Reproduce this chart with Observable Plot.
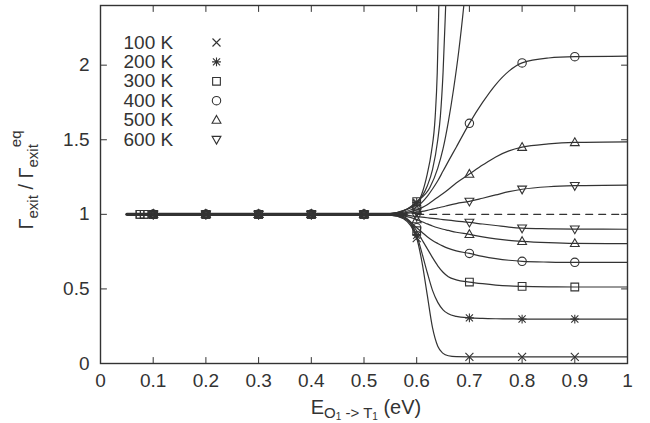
<!DOCTYPE html>
<html>
<head>
<meta charset="utf-8">
<script src="https://cdn.jsdelivr.net/npm/d3@7"></script>
<script src="https://cdn.jsdelivr.net/npm/@observablehq/plot@0.6"></script>
<style>
  html, body { margin: 0; padding: 0; background: #fff; }
  svg { display: block; }
</style>
</head>
<body>
<div id="chart"></div>
<script>
// ---- data ----
const temps = ["100 K", "200 K", "300 K", "400 K", "500 K", "600 K"];
const xTicks = [0, 0.1, 0.2, 0.3, 0.4, 0.5, 0.6, 0.7, 0.8, 0.9, 1];
const yTicks = [0, 0.5, 1, 1.5, 2];
const markX = [0.075, 0.083, 0.1, 0.2, 0.3, 0.4, 0.5, 0.6, 0.7, 0.8, 0.9];

// shared x grid for the saturating curves
const xs = [0.05, 0.075, 0.083, 0.1, 0.2, 0.3, 0.4, 0.5, 0.55, 0.575, 0.6, 0.61, 0.62, 0.63, 0.64, 0.65, 0.66, 0.675, 0.7, 0.725, 0.75, 0.775, 0.8, 0.85, 0.9, 1.0];

const down100 = [1, 1, 1, 1, 1, 1, 1, 1, 0.995, 0.97, 0.84, 0.68, 0.46, 0.24, 0.115, 0.068, 0.052, 0.046, 0.045, 0.045, 0.045, 0.045, 0.045, 0.045, 0.045, 0.045];
const down200 = [1, 1, 1, 1, 1, 1, 1, 1, 0.995, 0.975, 0.86, 0.74, 0.61, 0.49, 0.41, 0.36, 0.333, 0.316, 0.306, 0.302, 0.300, 0.299, 0.298, 0.298, 0.298, 0.298];
const down300 = [1, 1, 1, 1, 1, 1, 1, 1, 0.997, 0.98, 0.89, 0.83, 0.77, 0.71, 0.655, 0.612, 0.582, 0.561, 0.546, 0.535, 0.526, 0.52, 0.517, 0.514, 0.513, 0.513];
const down400 = [1, 1, 1, 1, 1, 1, 1, 1, 0.998, 0.985, 0.91, 0.88, 0.85, 0.825, 0.805, 0.787, 0.772, 0.755, 0.738, 0.718, 0.703, 0.692, 0.685, 0.68, 0.678, 0.678];
const down500 = [1, 1, 1, 1, 1, 1, 1, 1, 0.999, 0.99, 0.965, 0.95, 0.936, 0.922, 0.91, 0.9, 0.892, 0.88, 0.866, 0.849, 0.836, 0.826, 0.819, 0.81, 0.805, 0.803];
const down600 = [1, 1, 1, 1, 1, 1, 1, 1, 1, 0.996, 0.985, 0.981, 0.977, 0.973, 0.969, 0.965, 0.961, 0.955, 0.946, 0.935, 0.925, 0.914, 0.907, 0.903, 0.901, 0.9];
const up400 = [1, 1, 1, 1, 1, 1, 1, 1, 1.003, 1.015, 1.05, 1.08, 1.12, 1.17, 1.225, 1.29, 1.355, 1.45, 1.61, 1.75, 1.87, 1.96, 2.015, 2.048, 2.057, 2.06];
const up500 = [1, 1, 1, 1, 1, 1, 1, 1, 1.001, 1.008, 1.03, 1.045, 1.065, 1.09, 1.115, 1.14, 1.167, 1.21, 1.27, 1.33, 1.385, 1.425, 1.45, 1.472, 1.482, 1.486];
const up600 = [1, 1, 1, 1, 1, 1, 1, 1, 1, 1.004, 1.015, 1.02, 1.027, 1.035, 1.043, 1.051, 1.06, 1.072, 1.087, 1.108, 1.13, 1.152, 1.168, 1.185, 1.192, 1.196];

// steep (diverging) curves
const up100X = [0.05, 0.1, 0.2, 0.3, 0.4, 0.5, 0.55, 0.575, 0.6, 0.61, 0.62, 0.628, 0.635, 0.639, 0.642, 0.646, 0.65];
const up100Y = [1, 1, 1, 1, 1, 1, 1.005, 1.025, 1.07, 1.14, 1.27, 1.42, 1.65, 1.95, 2.4, 3.1, 3.9];
const up200X = [0.05, 0.1, 0.2, 0.3, 0.4, 0.5, 0.55, 0.575, 0.6, 0.61, 0.62, 0.63, 0.64, 0.645, 0.65, 0.655, 0.66, 0.67];
const up200Y = [1, 1, 1, 1, 1, 1, 1.005, 1.025, 1.08, 1.12, 1.19, 1.3, 1.5, 1.66, 1.95, 2.4, 2.9, 4.0];
const up300X = [0.05, 0.075, 0.083, 0.1, 0.2, 0.3, 0.4, 0.5, 0.55, 0.575, 0.6, 0.625, 0.64, 0.65, 0.66, 0.67, 0.68, 0.69, 0.7, 0.72];
const up300Y = [1, 1, 1, 1, 1, 1, 1, 1, 1.004, 1.022, 1.085, 1.18, 1.31, 1.44, 1.62, 1.84, 2.1, 2.42, 2.8, 3.6];

// reference line (equilibrium ratio = 1)
const eqSolidX = [0.05, 0.58];
const eqDashX = [0.6, 1.0];
const eqY = 1;

// ---- build tables ----
const curves = [
  {t: "100 K", x: xs, y: down100},
  {t: "200 K", x: xs, y: down200},
  {t: "300 K", x: xs, y: down300},
  {t: "400 K", x: xs, y: down400},
  {t: "500 K", x: xs, y: down500},
  {t: "600 K", x: xs, y: down600},
  {t: "100 K", x: up100X, y: up100Y},
  {t: "200 K", x: up200X, y: up200Y},
  {t: "300 K", x: up300X, y: up300Y},
  {t: "400 K", x: xs, y: up400},
  {t: "500 K", x: xs, y: up500},
  {t: "600 K", x: xs, y: up600}
];
const lineRows = [];
const markRows = [];
curves.forEach((c, k) => {
  c.x.forEach((xv, i) => {
    lineRows.push({id: k, t: c.t, x: xv, y: c.y[i]});
    const isMark = markX.some(m => Math.abs(m - xv) < 1e-9);
    const early = xv < 0.09;
    if (isMark && c.y[i] <= 2.4 && (!early || c.t === "300 K")) {
      markRows.push({t: c.t, x: xv, y: c.y[i]});
    }
  });
});

// ---- symbols (gnuplot-like) ----
const R = s => Math.sqrt(s / Math.PI);
const symTimes = {draw(c, s) { const a = R(s) * 0.95; c.moveTo(-a, -a); c.lineTo(a, a); c.moveTo(-a, a); c.lineTo(a, -a); }};
const symAster = {draw(c, s) { const a = R(s) * 0.85, b = R(s) * 1.05; c.moveTo(-a, -a); c.lineTo(a, a); c.moveTo(-a, a); c.lineTo(a, -a); c.moveTo(-b, 0); c.lineTo(b, 0); c.moveTo(0, -b); c.lineTo(0, b); }};
const symSquare = {draw(c, s) { const a = R(s) * 0.92; c.moveTo(-a, -a); c.lineTo(a, -a); c.lineTo(a, a); c.lineTo(-a, a); c.closePath(); }};
const symCircle = {draw(c, s) { const a = R(s); c.moveTo(a, 0); c.arc(0, 0, a, 0, 2 * Math.PI); c.closePath(); }};
const symTri = {draw(c, s) { const a = R(s); c.moveTo(0, -a * 1.1); c.lineTo(a * 1.05, a * 0.75); c.lineTo(-a * 1.05, a * 0.75); c.closePath(); }};
const symTriDown = {draw(c, s) { const a = R(s); c.moveTo(0, a * 1.1); c.lineTo(a * 1.05, -a * 0.75); c.lineTo(-a * 1.05, -a * 0.75); c.closePath(); }};
const symbols = [symTimes, symAster, symSquare, symCircle, symTri, symTriDown];

const ink = "#333";
const font = "'Liberation Sans', Arial, sans-serif";
const tickShape = {draw(c, l) { c.moveTo(0, 0); c.lineTo(0, -l); }};
const tickOpts = {length: 6, anchor: "start", shape: tickShape, stroke: ink, strokeWidth: 1};

const marks = [
  Plot.line(eqSolidX, {x: d => d, y: () => eqY, stroke: ink, strokeWidth: 3.2}),
  Plot.line(eqDashX, {x: d => d, y: () => eqY, stroke: ink, strokeWidth: 1.2, strokeDasharray: "7,6"}),
  Plot.line(lineRows, {x: "x", y: "y", z: "id", curve: "monotone-x", clip: true, stroke: ink, strokeWidth: 1.2})
];
temps.forEach((t, i) => {
  marks.push(Plot.dot(markRows.filter(d => d.t === t), {x: "x", y: "y", symbol: symbols[i], r: 4.2, fill: "none", stroke: ink, strokeWidth: 1.1}));
  // legend entry
  marks.push(Plot.text([t], {frameAnchor: "top-left", dx: 23, dy: 37 + i * 19.4, text: d => d, textAnchor: "start", lineAnchor: "middle", fontSize: 19, fill: ink}));
  marks.push(Plot.dot([t], {frameAnchor: "top-left", dx: 116, dy: 37 + i * 19.4, symbol: symbols[i], r: 4.2, fill: "none", stroke: ink, strokeWidth: 1.1}));
});
marks.push(
  Plot.vector(xTicks, {x: d => d, frameAnchor: "bottom", rotate: 0, ...tickOpts}),
  Plot.vector(xTicks, {x: d => d, frameAnchor: "top", rotate: 180, ...tickOpts}),
  Plot.vector(yTicks, {y: d => d, frameAnchor: "left", rotate: 90, ...tickOpts}),
  Plot.vector(yTicks, {y: d => d, frameAnchor: "right", rotate: 270, ...tickOpts}),
  Plot.frame({stroke: ink, strokeWidth: 1.4}),
  Plot.axisX({ticks: xTicks, tickSize: 0, tickPadding: 10, fontSize: 19, label: null, tickFormat: d => String(d), fill: ink}),
  Plot.axisY({ticks: yTicks, tickSize: 0, tickPadding: 11, fontSize: 19, label: null, tickFormat: d => String(d), fill: ink})
);

const chart = Plot.plot({
  width: 650, height: 423,
  marginLeft: 100, marginRight: 23, marginTop: 5, marginBottom: 60,
  x: {domain: [0, 1]},
  y: {domain: [0, 2.4]},
  style: {fontFamily: font, fontSize: "19px", color: ink, background: "#fff"},
  marks
});
document.getElementById("chart").appendChild(chart);

// ---- axis titles (with sub/superscripts) ----
const svg = d3.select(chart);
const xt = svg.append("text")
  .attr("x", 366).attr("y", 414).attr("text-anchor", "middle")
  .attr("font-family", font).attr("font-size", 20).attr("fill", ink);
xt.append("tspan").text("E");
xt.append("tspan").attr("dy", 4).attr("font-size", 15).text("O");
xt.append("tspan").attr("dy", 2).attr("font-size", 10).text("1");
xt.append("tspan").attr("dy", -2).attr("font-size", 15).text(" -> T");
xt.append("tspan").attr("dy", 2).attr("font-size", 10).text("1");
xt.append("tspan").attr("dy", -6).text(" (eV)");

const yt = svg.append("text")
  .attr("transform", "translate(33,180) rotate(-90)").attr("text-anchor", "middle")
  .attr("font-family", font).attr("font-size", 20).attr("fill", ink);
yt.append("tspan").text("Γ");
yt.append("tspan").attr("dy", 5).attr("font-size", 15).text("exit");
yt.append("tspan").attr("dy", -5).text(" / Γ");
yt.append("tspan").attr("dy", 5).attr("font-size", 15).text("exit");
yt.append("tspan").attr("dy", -17).attr("dx", -3).attr("font-size", 15).text("eq");
</script>
</body>
</html>
